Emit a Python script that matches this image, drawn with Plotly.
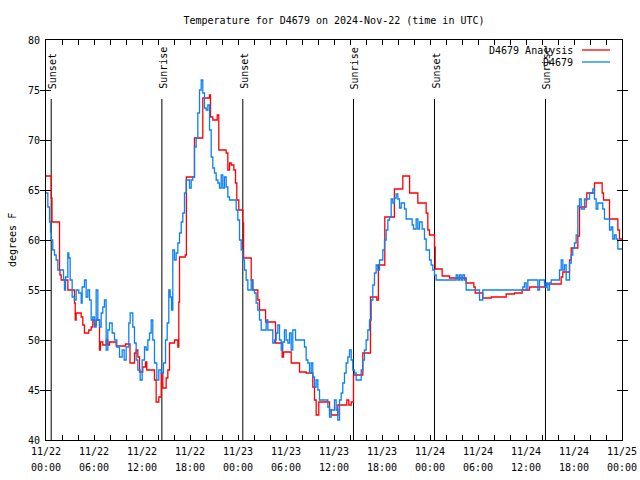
import plotly.graph_objects as go
import pandas as pd

START = pd.Timestamp("2024-11-22 00:00")
END = pd.Timestamp("2024-11-25 00:00")

TITLE = "Temperature for D4679 on 2024-Nov-22 (time in UTC)"
Y_LABEL = "degrees F"
RED_NAME = "D4679 Analysis"
BLUE_NAME = "D4679"

# hours since 2024-11-22 00:00 UTC, temperature (F)
red_hours = [0.00, 0.65, 0.75, 1.69, 1.75, 1.90, 2.73, 3.56, 3.65, 3.77, 4.40, 4.60, 4.81, 5.35, 5.65, 5.85,
             6.06, 6.27, 6.69, 6.81, 7.10, 7.52, 7.73, 7.94, 8.77, 9.94, 10.50, 11.06, 11.27, 11.48, 11.69,
             12.10, 12.44, 12.60, 13.56, 13.77, 14.10, 14.40, 14.60, 15.02, 15.23, 15.44, 16.06, 16.48, 16.60,
             16.69, 17.40, 17.55, 18.56, 19.60, 20.44, 20.56, 20.85, 21.40, 21.60, 22.52, 22.73, 22.94, 23.15,
             23.48, 23.69, 23.85, 24.10, 24.60, 24.70, 25.65, 25.85, 26.48, 26.69, 27.45, 28.69, 29.52, 29.69,
             30.65, 31.69, 32.52, 33.35, 33.56, 33.77, 34.10, 35.44, 35.65, 36.48, 37.60, 37.85, 38.15, 38.44,
             39.60, 40.56, 41.35, 41.55, 42.35, 43.55, 44.60, 45.45, 46.48, 47.52, 47.73, 47.94, 48.56, 48.65,
             49.52, 50.44, 52.52, 53.48, 53.65, 54.60, 55.65, 57.52, 58.56, 59.52, 60.44, 62.52, 64.40, 64.60,
             65.44, 65.65, 66.48, 66.69, 67.52, 67.60, 68.56, 69.52, 69.69, 70.44, 71.48, 71.69, 72.00]
red_temp = [66.4, 64.2, 61.8, 57.0, 56.5, 56.0, 55.0, 53.7, 52.0, 52.7, 52.3, 51.5, 50.7, 51.0, 51.3, 52.0,
            51.5, 52.0, 49.0, 49.8, 49.5, 50.0, 49.5, 49.8, 49.4, 49.6, 47.7, 48.7, 49.0, 48.3, 46.8,
            47.3, 47.8, 47.0, 46.0, 43.8, 44.3, 46.7, 45.2, 46.2, 47.0, 49.7, 50.0, 49.3, 53.8,
            58.3, 58.5, 66.3, 70.2, 74.2, 74.5, 72.3, 72.0, 72.5, 69.0, 68.7, 67.0, 67.7, 67.5,
            67.0, 65.7, 64.0, 63.0, 61.7, 58.2, 56.0, 55.0, 54.0, 53.0, 51.8, 49.7, 48.3, 48.8,
            47.7, 46.8, 46.7, 45.3, 44.0, 42.5, 43.8, 43.0, 42.5, 43.5, 44.0, 43.5, 43.8, 46.5,
            48.7, 54.3, 54.0, 57.5, 62.3, 65.1, 66.4, 64.7, 63.7, 62.7, 61.0, 60.5, 59.3, 57.1,
            56.4, 56.2, 55.7, 55.3, 54.7, 54.2, 54.3, 54.6, 54.7, 55.0, 55.3, 55.6, 56.3, 56.8,
            58.0, 59.2, 60.4, 63.3, 64.0, 64.7, 65.7, 64.7, 64.0, 62.1, 61.0, 60.1, 60.1]

blue_hours = [0.00, 0.23, 0.44, 0.56, 0.65, 0.85, 1.06, 1.27, 1.48, 2.19, 2.31, 2.44, 2.73, 2.85, 3.02, 3.27,
              3.56, 3.77, 4.10, 4.40, 4.52, 4.81, 5.02, 5.23, 5.44, 5.65, 5.85, 6.06, 6.27, 6.48, 6.69, 6.90,
              7.10, 7.31, 7.52, 7.73, 7.94, 8.27, 8.56, 8.85, 9.19, 9.52, 9.77, 10.02, 10.35, 10.52, 10.85,
              11.06, 11.27, 11.48, 11.77, 12.02, 12.31, 12.52, 12.73, 12.94, 13.15, 13.35, 13.56, 13.85, 14.10,
              14.40, 14.69, 14.94, 15.15, 15.35, 15.52, 15.69, 15.85, 16.06, 16.27, 16.48, 16.69, 16.90, 17.10,
              17.31, 17.52, 17.94, 18.15, 18.35, 18.56, 18.77, 18.98, 19.19, 19.40, 19.60, 19.81, 20.02, 20.23,
              20.44, 20.65, 20.85, 21.06, 21.27, 21.48, 21.69, 21.90, 22.10, 22.31, 22.52, 22.73, 22.94, 23.77,
              23.98, 24.19, 24.40, 24.60, 24.81, 25.02, 25.23, 25.65, 25.85, 26.06, 26.27, 26.48, 26.69, 26.90,
              27.52, 27.73, 28.35, 28.56, 28.77, 28.98, 29.19, 29.40, 29.60, 29.81, 30.02, 30.23, 30.44, 30.65,
              30.85, 31.19, 32.31, 32.52, 32.73, 32.94, 33.15, 33.35, 33.56, 33.77, 33.98, 34.19, 35.23, 35.44,
              35.65, 36.06, 36.27, 36.48, 36.69, 36.90, 37.10, 37.31, 37.52, 37.73, 37.94, 38.15, 38.35, 38.56,
              38.77, 39.40, 39.60, 39.81, 40.02, 40.23, 40.44, 40.65, 40.85, 41.06, 41.27, 41.48, 41.69, 42.10,
              42.31, 42.52, 42.73, 42.94, 43.15, 43.35, 43.56, 43.77, 43.98, 44.19, 44.40, 44.81, 45.02, 45.77,
              45.94, 46.27, 46.48, 46.69, 47.02, 47.31, 47.52, 47.94, 48.15, 48.35, 48.56, 48.77, 51.27, 51.48,
              51.69, 51.90, 52.10, 52.31, 52.52, 54.19, 54.60, 59.60, 59.81, 60.02, 60.23, 61.48, 61.69, 62.31,
              62.52, 62.73, 62.94, 63.15, 64.19, 64.40, 64.60, 64.81, 65.02, 65.44, 65.65, 65.85, 66.06, 66.27,
              66.48, 66.69, 66.90, 67.31, 67.94, 68.35, 68.56, 68.77, 68.98, 69.60, 69.81, 70.44, 70.65, 70.85,
              71.06, 71.27, 71.48, 72.00]
blue_temp = [64.7, 63.3, 61.8, 60.8, 60.0, 59.0, 58.5, 58.0, 57.0, 56.0, 55.0, 56.3, 58.7, 58.2, 56.0, 54.3,
             54.0, 55.0, 54.7, 53.7, 55.3, 56.0, 54.3, 55.0, 54.0, 52.0, 52.3, 51.3, 55.0, 52.0, 51.3, 52.7,
             53.3, 54.0, 49.0, 51.0, 51.7, 50.7, 50.0, 49.3, 48.3, 49.0, 48.0, 49.3, 51.7, 52.7, 51.3,
             49.7, 48.0, 47.0, 46.0, 48.0, 49.3, 49.0, 50.0, 50.7, 52.0, 50.0, 47.7, 46.0, 47.0,
             46.7, 47.7, 50.0, 51.7, 55.0, 54.3, 53.0, 59.0, 58.0, 58.7, 59.7, 60.7, 61.8, 62.7,
             64.7, 66.0, 65.2, 66.0, 66.3, 69.3, 70.2, 72.7, 75.0, 76.0, 74.7, 73.2, 73.0, 73.5,
             71.0, 68.3, 67.2, 66.7, 66.0, 65.7, 65.2, 66.5, 65.2, 66.3, 65.3, 64.3, 64.0, 63.0,
             62.0, 60.0, 59.0, 58.0, 57.0, 56.0, 55.0, 56.0, 55.0, 54.7, 53.7, 53.0, 52.0, 51.0,
             52.0, 51.0, 49.7, 50.0, 50.7, 51.5, 50.0, 49.0, 49.8, 51.0, 50.0, 49.7, 50.7, 49.0,
             51.0, 50.0, 49.3, 48.0, 47.7, 46.7, 47.7, 46.3, 45.3, 46.0, 45.0, 44.0, 43.3, 42.3,
             43.0, 44.0, 43.0, 42.0, 44.0, 44.7, 45.7, 46.7, 47.7, 48.3, 49.0, 48.0, 47.0, 46.7,
             46.0, 47.0, 48.0, 49.0, 50.0, 51.0, 52.0, 54.0, 55.5, 56.7, 57.5, 57.0, 58.0, 59.0,
             60.0, 61.0, 62.0, 62.3, 64.1, 63.7, 64.2, 64.6, 64.1, 63.2, 63.7, 63.1, 62.1, 61.5,
             61.1, 62.1, 61.1, 61.8, 61.1, 60.1, 59.0, 58.0, 57.5, 57.0, 56.5, 56.0, 56.5, 56.0,
             56.5, 56.0, 56.5, 56.0, 55.0, 54.0, 55.0, 55.3, 55.7, 55.0, 56.0, 55.0, 56.0, 55.3,
             55.7, 55.0, 55.7, 56.0, 57.0, 58.0, 57.0, 57.5, 56.0, 57.7, 58.5, 59.2, 59.7, 60.5,
             63.4, 64.1, 63.1, 64.1, 64.7, 65.1, 64.1, 63.1, 63.7, 63.1, 62.1, 61.0, 61.3, 60.1,
             60.5, 60.1, 59.1, 59.1]

sun_labels = ["Sunset", "Sunrise", "Sunset", "Sunrise", "Sunset", "Sunrise"]
sun_times = ["2024-11-22 00:39", "2024-11-22 14:29", "2024-11-23 00:36",
             "2024-11-23 14:26", "2024-11-24 00:34", "2024-11-24 14:26"]

FONT = dict(family="DejaVu Sans Mono, Liberation Mono, monospace", size=10, color="black")
RED = "#ff0000"
BLUE = "#0c80f4"


def to_times(hours):
    return [START + pd.Timedelta(hours=h) for h in hours]


fig = go.Figure()
fig.add_trace(go.Scatter(x=to_times(red_hours), y=red_temp, mode="lines", name=RED_NAME,
                         line=dict(color=RED, width=1.3, shape="hv"), showlegend=False))
fig.add_trace(go.Scatter(x=to_times(blue_hours), y=blue_temp, mode="lines", name=BLUE_NAME,
                         line=dict(color=BLUE, width=1.3, shape="hv"), showlegend=False))

W, H = 640, 480
L, R, T, B = 46, 18, 40, 40
PW, PH = W - L - R, H - T - B


def px(x_screen):
    return (x_screen - L) / PW


def py(y_screen):
    return (H - B - y_screen) / PH


shapes = []
annotations = []
for lab, t in zip(sun_labels, sun_times):
    shapes.append(dict(type="line", xref="x", yref="y", x0=t, x1=t, y0=40, y1=74.1,
                       line=dict(color="black", width=1), layer="below"))
    annotations.append(dict(x=t, y=74.9, xref="x", yref="y", text=lab, textangle=-90,
                            showarrow=False, xanchor="center", yanchor="bottom", xshift=1,
                            font=FONT))

# legend (gnuplot style: text right aligned, sample line on the right)
for name, col, yy in [(RED_NAME, RED, 50), (BLUE_NAME, BLUE, 62)]:
    annotations.append(dict(x=px(575), y=py(yy), xref="paper", yref="paper", text=name,
                            showarrow=False, xanchor="right", yanchor="middle", font=FONT))
    shapes.append(dict(type="line", xref="paper", yref="paper", x0=px(582), x1=px(610),
                       y0=py(yy), y1=py(yy), line=dict(color=col, width=1.3)))

annotations.append(dict(x=px(12), y=py(240), xref="paper", yref="paper", text=Y_LABEL,
                        textangle=-90, showarrow=False, xanchor="center", yanchor="middle",
                        font=FONT))

axis_common = dict(showline=True, linecolor="black", linewidth=1, mirror="allticks",
                   ticks="inside", ticklen=5, tickcolor="black", tickwidth=1,
                   showgrid=False, zeroline=False, tickfont=FONT)

fig.update_layout(
    width=W, height=H, autosize=False,
    margin=dict(l=L, r=R, t=T, b=B, autoexpand=False),
    paper_bgcolor="white", plot_bgcolor="white",
    title=dict(text=TITLE, x=px(334), xanchor="center", y=1 - 20 / H, yanchor="middle",
               xref="paper", yref="container", font=FONT),
    xaxis=dict(range=[START, END], type="date", tick0=START, dtick=6 * 3600 * 1000,
               tickformat="%m/%d", ticklabelstandoff=2, ticklabeloverflow="allow",
               minor=dict(dtick=2 * 3600 * 1000, tick0=START, ticks="inside", ticklen=5,
                          tickcolor="black", showgrid=False),
               **axis_common),
    xaxis2=dict(range=[START, END], type="date", overlaying="x", matches="x", anchor="y",
                side="bottom", tick0=START, dtick=6 * 3600 * 1000, tickformat="%H:%M",
                showline=False, ticks="", showgrid=False, zeroline=False, tickfont=FONT,
                ticklabelstandoff=20, ticklabeloverflow="allow"),
    yaxis=dict(range=[40, 80], dtick=5, tick0=40, ticklabelstandoff=3, **axis_common),
    shapes=shapes, annotations=annotations, showlegend=False, hovermode=False,
)
fig.add_trace(go.Scatter(x=[START, END], y=[None, None], xaxis="x2", yaxis="y",
                         mode="lines", showlegend=False, hoverinfo="skip"))

# remove the default 8px page margin so the 640x480 figure fills the window exactly
fig.write_html("out.html", config={"displayModeBar": False, "staticPlot": True},
               post_script="document.body.style.margin='0';document.body.style.overflow='hidden';")
